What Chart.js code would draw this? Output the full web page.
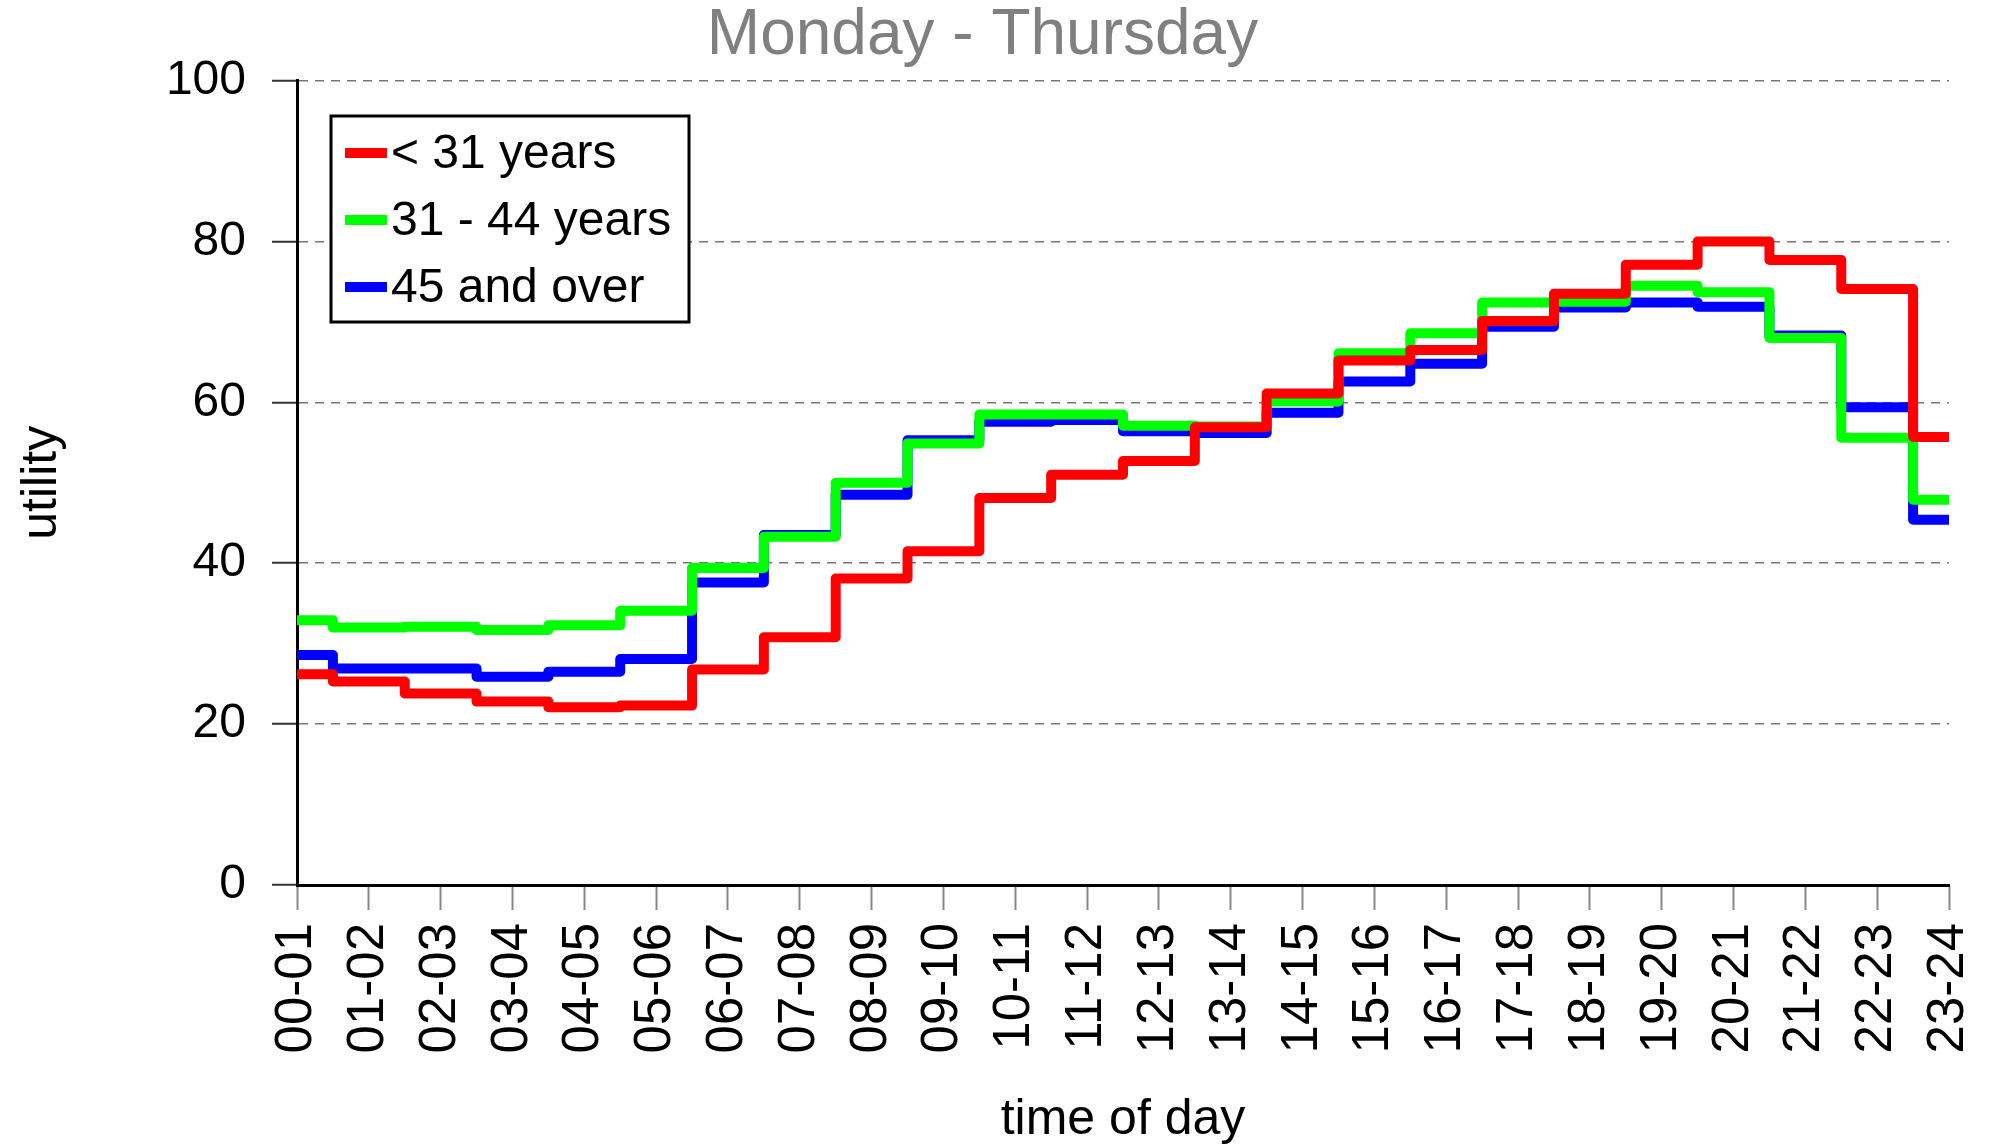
<!DOCTYPE html>
<html>
<head>
<meta charset="utf-8">
<script src="https://cdn.jsdelivr.net/npm/chart.js@4"></script>
<style>
  html, body { margin: 0; padding: 0; background: #fff; }
  #grafico { display: block; }
</style>
</head>
<body>
<canvas id="grafico" width="1991" height="1146"></canvas>
<script>
const horas = ["00-01", "01-02", "02-03", "03-04", "04-05", "05-06", "06-07", "07-08",
    "08-09", "09-10", "10-11", "11-12", "12-13", "13-14", "14-15", "15-16",
    "16-17", "17-18", "18-19", "19-20", "20-21", "21-22", "22-23", "23-24"];

const nomesSeries = ["< 31 years", "31 - 44 years", "45 and over"];

const menos31 = [26.2, 25.3, 23.8, 22.8, 22.1, 22.3, 26.8, 30.8, 38.1, 41.5, 48.1, 51.0,
    52.7, 56.9, 61.1, 65.2, 66.5, 70.1, 73.5, 77.1, 80.0, 77.7, 74.1, 55.7];
const de31a44 = [32.9, 32.0, 32.1, 31.7, 32.3, 34.1, 39.4, 43.3, 50.0, 54.9, 58.5, 58.5,
    57.1, 57.0, 60.1, 66.1, 68.6, 72.4, 72.5, 74.5, 73.7, 68.0, 55.6, 47.9];
const acima45 = [28.6, 26.9, 26.9, 25.9, 26.5, 28.1, 37.6, 43.5, 48.5, 55.3, 57.6, 57.8,
    56.4, 56.2, 58.7, 62.6, 64.8, 69.4, 71.8, 72.4, 71.9, 68.3, 59.4, 45.4];

const ticksY = [0, 20, 40, 60, 80, 100];

const fonte = "'Liberation Sans', Arial, Helvetica, sans-serif";

const ctx = document.getElementById('grafico').getContext('2d');

// legenda desenhada dentro da area do grafico, com moldura
const legendaCaixa = {
    id: 'legendaCaixa',
    afterDraw(chart) {
        const c = chart.ctx;
        const x0 = 331, y0 = 116, w = 358, h = 206;
        c.save();
        c.fillStyle = '#fff';
        c.fillRect(x0, y0, w, h);
        c.strokeStyle = '#000';
        c.lineWidth = 3;
        c.strokeRect(x0, y0, w, h);
        const linhas = [153, 220, 287];
        chart.data.datasets.forEach((ds, i) => {
            c.strokeStyle = ds.borderColor;
            c.lineWidth = 10;
            c.beginPath();
            c.moveTo(345, linhas[i]);
            c.lineTo(387, linhas[i]);
            c.stroke();
            c.fillStyle = '#000';
            c.font = '48px ' + fonte;
            c.textBaseline = 'middle';
            c.textAlign = 'left';
            c.fillText(ds.label, 391, linhas[i] + 2);
        });
        c.restore();
    }
};

function serie(label, dados, cor) {
    return {
        label: label,
        data: dados,
        borderColor: cor,
        backgroundColor: cor,
        borderWidth: 10,
        stepped: 'middle',
        pointRadius: 0,
        fill: false,
        borderJoinStyle: 'round',
        borderCapStyle: 'butt'
    };
}

let grafico = new Chart(ctx, {
    type: 'line',
    data: {
        labels: horas,
        datasets: [
            serie(nomesSeries[0], menos31, '#ff0000'),
            serie(nomesSeries[1], de31a44, '#00ff00'),
            serie(nomesSeries[2], acima45, '#0000ff')
        ]
    },
    options: {
        responsive: false,
        animation: false,
        layout: {
            padding: { left: 16, right: 42, top: 0, bottom: 0 }
        },
        plugins: {
            legend: { display: false },
            tooltip: { enabled: false },
            title: {
                display: true,
                text: 'Monday - Thursday',
                color: '#808080',
                font: { family: fonte, size: 64, weight: 'normal', lineHeight: 1.15 },
                padding: { top: 0, bottom: 7 }
            }
        },
        scales: {
            x: {
                offset: false,
                afterFit: s => {
                    s.height = 261;
                    s.paddingLeft = 0;
                    s.paddingRight = 0;
                },
                border: { display: true, color: '#000', width: 3 },
                grid: {
                    drawOnChartArea: false,
                    drawTicks: true,
                    tickLength: 25,
                    tickColor: '#888',
                    tickWidth: 2
                },
                ticks: {
                    autoSkip: false,
                    minRotation: 90,
                    maxRotation: 90,
                    padding: 13,
                    color: '#000',
                    font: { family: fonte, size: 51 }
                },
                title: {
                    display: true,
                    text: 'time of day',
                    color: '#000',
                    font: { family: fonte, size: 50, lineHeight: 1.05 },
                    padding: { top: 0, bottom: 0 }
                }
            },
            y: {
                min: 0,
                max: 100,
                afterFit: s => { s.width = 281; },
                afterBuildTicks: s => { s.ticks = ticksY.map(v => ({ value: v })); },
                border: { display: true, color: '#000', width: 3, dash: [9, 7] },
                grid: {
                    color: '#777',
                    lineWidth: 1.5,
                    drawTicks: true,
                    tickLength: 25,
                    tickBorderDash: [],
                    tickColor: '#333',
                    tickWidth: 2
                },
                ticks: {
                    padding: 26,
                    color: '#000',
                    font: { family: fonte, size: 48 }
                },
                title: {
                    display: true,
                    text: 'utility',
                    color: '#000',
                    font: { family: fonte, size: 50, lineHeight: 1.0 },
                    padding: { top: 1, bottom: 0 }
                }
            }
        }
    },
    plugins: [legendaCaixa]
});
</script>
</body>
</html>
